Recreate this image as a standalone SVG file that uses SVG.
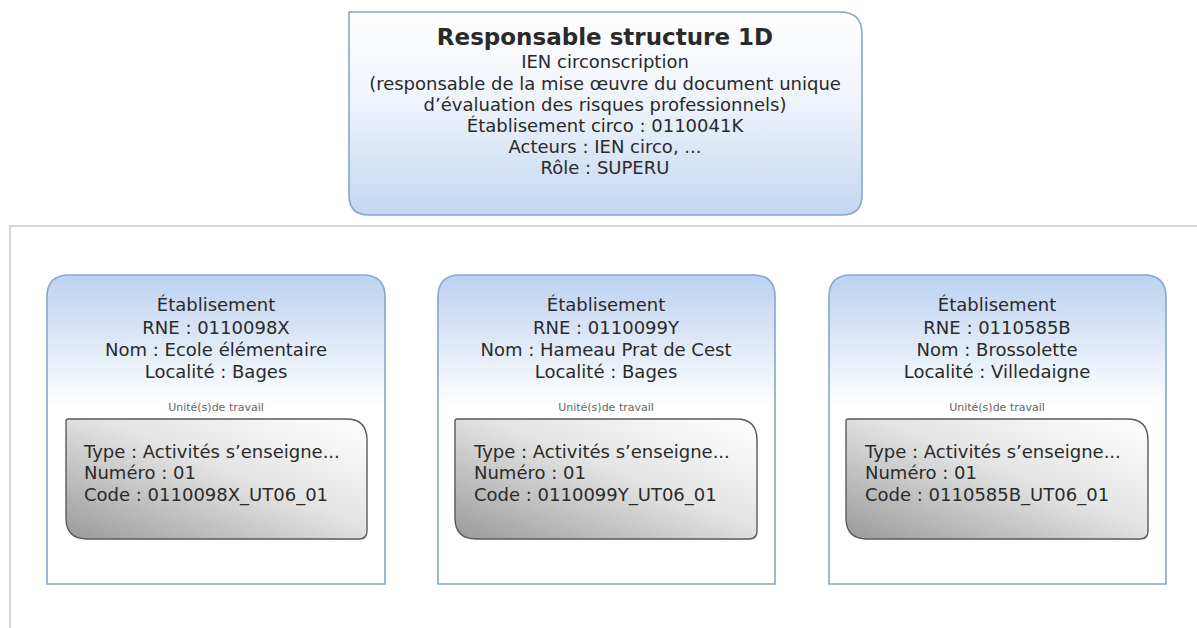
<svg xmlns="http://www.w3.org/2000/svg" width="1197" height="628" viewBox="0 0 1197 628">
<defs>
  <linearGradient id="gTop" x1="0" y1="0" x2="0" y2="1">
    <stop offset="0" stop-color="#ffffff"/>
    <stop offset="0.45" stop-color="#eef3fb"/>
    <stop offset="1" stop-color="#c3d7f2"/>
  </linearGradient>
  <linearGradient id="gEtab" x1="0" y1="0" x2="0" y2="1">
    <stop offset="0" stop-color="#bcd2f0"/>
    <stop offset="0.43" stop-color="#ffffff"/>
    <stop offset="1" stop-color="#ffffff"/>
  </linearGradient>
  <linearGradient id="gUT" x1="0" y1="1" x2="1" y2="0">
    <stop offset="0" stop-color="#9a9a9a"/>
    <stop offset="0.55" stop-color="#e4e4e4"/>
    <stop offset="1" stop-color="#ffffff"/>
  </linearGradient>
</defs>
<style>
  .box { stroke: #86a6cf; stroke-width: 1.6; }
  .ut { stroke: #5a5a5a; stroke-width: 1.4; fill: url(#gUT); }
  text { font-family: "DejaVu Sans", Verdana, sans-serif; fill: #2a2a2a; }
  .title { font-size: 23px; font-weight: bold; }
  .t { font-size: 18px; text-anchor: middle; }
  .small { font-size: 11px; text-anchor: middle; fill: #666; }
  .l { font-size: 18px; }
  .sep { stroke: #c8c8c8; stroke-width: 1.5; fill: none; }
</style>
<rect width="1197" height="628" fill="#ffffff"/>
<g id="connectors">
  <path class="sep" d="M1197 226 H10 V628"/>
</g>
<g id="responsable">
  <path class="box" fill="url(#gTop)" d="M349 12 H840 Q862 12 862 34 V195 Q862 215 842 215 H369 Q349 215 349 195 Z"/>
  <text class="title" x="605" y="45" text-anchor="middle">Responsable structure 1D</text>
  <text class="t" x="605" y="68">IEN circonscription</text>
  <text class="t" x="605" y="90">(responsable de la mise œuvre du document unique</text>
  <text class="t" x="605" y="111">d’évaluation des risques professionnels)</text>
  <text class="t" x="605" y="132">Établisement circo : 0110041K</text>
  <text class="t" x="605" y="153">Acteurs : IEN circo, ...</text>
  <text class="t" x="605" y="174">Rôle : SUPERU</text>
</g>
<g id="etab1">
  <path class="box" fill="url(#gEtab)" d="M47 584 V297 Q47 275 69 275 H363 Q385 275 385 297 V584 Z"/>
  <text class="t" x="216" y="311">Établisement</text>
  <text class="t" x="216" y="334">RNE : 0110098X</text>
  <text class="t" x="216" y="356">Nom : Ecole élémentaire</text>
  <text class="t" x="216" y="378">Localité : Bages</text>
  <text class="small" x="216" y="411">Unité(s)de travail</text>
  <path class="ut" d="M68 419 H346 Q367 419 367 440 V531 Q367 539 359 539 H87 Q66 539 66 518 V421 Q66 419 68 419 Z"/>
  <text class="l" x="84" y="458">Type : Activités s’enseigne...</text>
  <text class="l" x="84" y="479">Numéro : 01</text>
  <text class="l" x="84" y="501">Code : 0110098X_UT06_01</text>
</g>
<g id="etab2">
  <path class="box" fill="url(#gEtab)" d="M438 584 V297 Q438 275 460 275 H753 Q775 275 775 297 V584 Z"/>
  <text class="t" x="606" y="311">Établisement</text>
  <text class="t" x="606" y="334">RNE : 0110099Y</text>
  <text class="t" x="606" y="356">Nom : Hameau Prat de Cest</text>
  <text class="t" x="606" y="378">Localité : Bages</text>
  <text class="small" x="606" y="411">Unité(s)de travail</text>
  <path class="ut" d="M457 419 H736 Q757 419 757 440 V531 Q757 539 749 539 H476 Q455 539 455 518 V421 Q455 419 457 419 Z"/>
  <text class="l" x="474" y="458">Type : Activités s’enseigne...</text>
  <text class="l" x="474" y="479">Numéro : 01</text>
  <text class="l" x="474" y="501">Code : 0110099Y_UT06_01</text>
</g>
<g id="etab3">
  <path class="box" fill="url(#gEtab)" d="M829 584 V297 Q829 275 851 275 H1144 Q1166 275 1166 297 V584 Z"/>
  <text class="t" x="997" y="311">Établisement</text>
  <text class="t" x="997" y="334">RNE : 0110585B</text>
  <text class="t" x="997" y="356">Nom : Brossolette</text>
  <text class="t" x="997" y="378">Localité : Villedaigne</text>
  <text class="small" x="997" y="411">Unité(s)de travail</text>
  <path class="ut" d="M848 419 H1127 Q1148 419 1148 440 V531 Q1148 539 1140 539 H867 Q846 539 846 518 V421 Q846 419 848 419 Z"/>
  <text class="l" x="865" y="458">Type : Activités s’enseigne...</text>
  <text class="l" x="865" y="479">Numéro : 01</text>
  <text class="l" x="865" y="501">Code : 0110585B_UT06_01</text>
</g>
</svg>
